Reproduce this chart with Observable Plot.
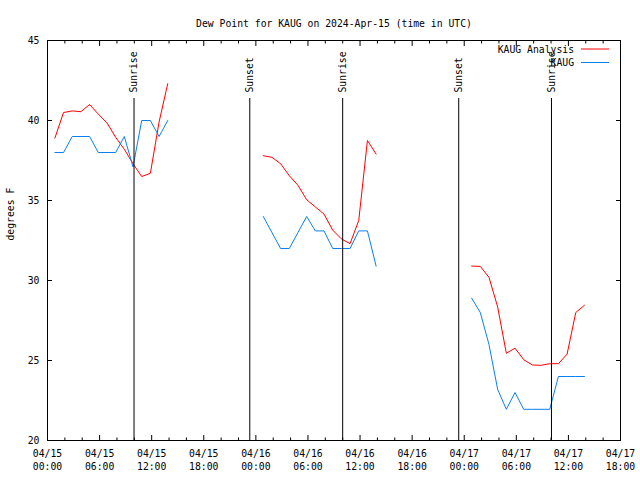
<!DOCTYPE html>
<html>
<head>
<meta charset="utf-8">
<script src="https://cdn.jsdelivr.net/npm/d3@7"></script>
<script src="https://cdn.jsdelivr.net/npm/@observablehq/plot@0.6"></script>
<style>
  html, body { margin: 0; padding: 0; background: #fff; }
  svg { display: block; }
</style>
</head>
<body>
<div id="chart"></div>
<script>
// ---- data ----
const titleText = "Dew Point for KAUG on 2024-Apr-15 (time in UTC)";
const yLabel = "degrees F";
const seriesNames = ["KAUG Analysis", "KAUG"];
const seriesColors = ["#ff0000", "#0a80f0"];

const times1 = ["2024-04-15T00:51Z","2024-04-15T01:51Z","2024-04-15T02:51Z","2024-04-15T03:51Z","2024-04-15T04:51Z","2024-04-15T05:51Z","2024-04-15T06:51Z","2024-04-15T07:51Z","2024-04-15T08:51Z","2024-04-15T09:51Z","2024-04-15T10:51Z","2024-04-15T11:51Z","2024-04-15T12:51Z","2024-04-15T13:51Z"];
const times2 = ["2024-04-16T00:51Z","2024-04-16T01:51Z","2024-04-16T02:51Z","2024-04-16T03:51Z","2024-04-16T04:51Z","2024-04-16T05:51Z","2024-04-16T06:51Z","2024-04-16T07:51Z","2024-04-16T08:51Z","2024-04-16T09:51Z","2024-04-16T10:51Z","2024-04-16T11:51Z","2024-04-16T12:51Z","2024-04-16T13:51Z"];
const times3 = ["2024-04-17T00:51Z","2024-04-17T01:51Z","2024-04-17T02:51Z","2024-04-17T03:51Z","2024-04-17T04:51Z","2024-04-17T05:51Z","2024-04-17T06:51Z","2024-04-17T07:51Z","2024-04-17T08:51Z","2024-04-17T09:51Z","2024-04-17T10:51Z","2024-04-17T11:51Z","2024-04-17T12:51Z","2024-04-17T13:51Z"];

const analysis1 = [38.9, 40.5, 40.6, 40.55, 41.0, 40.4, 39.85, 38.95, 38.2, 37.3, 36.5, 36.7, 39.9, 42.3];
const analysis2 = [37.8, 37.7, 37.3, 36.55, 35.95, 35.05, 34.6, 34.15, 33.15, 32.6, 32.3, 33.75, 38.75, 37.9];
const analysis3 = [30.9, 30.88, 30.2, 28.35, 25.45, 25.77, 25.05, 24.72, 24.7, 24.8, 24.8, 25.4, 28.0, 28.45];

const obs1 = [38, 38, 39, 39, 39, 38, 38, 38, 39, 37.1, 40, 40, 39, 40];
const obs2 = [34, 33, 32, 32, 33, 34, 33.1, 33.1, 32, 32, 32, 33.1, 33.1, 30.9];
const obs3 = [28.9, 28.0, 26.0, 23.2, 21.95, 23.0, 21.95, 21.95, 21.95, 21.95, 24.0, 24.0, 24.0, 24.0];

const sunTimes = ["2024-04-15T09:58Z", "2024-04-15T23:18Z", "2024-04-16T10:00Z", "2024-04-16T23:22Z", "2024-04-17T10:03Z"];
const sunLabels = ["Sunrise", "Sunset", "Sunrise", "Sunset", "Sunrise"];

const xDomain = ["2024-04-15T00:00Z", "2024-04-17T18:00Z"];
const xMajorTicks = ["2024-04-15T00:00Z","2024-04-15T06:00Z","2024-04-15T12:00Z","2024-04-15T18:00Z","2024-04-16T00:00Z","2024-04-16T06:00Z","2024-04-16T12:00Z","2024-04-16T18:00Z","2024-04-17T00:00Z","2024-04-17T06:00Z","2024-04-17T12:00Z","2024-04-17T18:00Z"];
const yDomain = [20, 45];
const yTicks = [20, 25, 30, 35, 40, 45];

// ---- build tables ----
const parse = s => new Date(s);
const rows = [];
[[times1, analysis1, obs1], [times2, analysis2, obs2], [times3, analysis3, obs3]].forEach(([t, a, o], i) => {
  t.forEach((s, j) => {
    rows.push({time: parse(s), value: a[j], series: seriesNames[0], seg: seriesNames[0] + i});
  });
  t.forEach((s, j) => {
    rows.push({time: parse(s), value: o[j], series: seriesNames[1], seg: seriesNames[1] + i});
  });
});
const sunEvents = sunTimes.map((s, i) => ({time: parse(s), label: sunLabels[i]}));
const xDom = xDomain.map(parse);
const majorTicks = xMajorTicks.map(parse);
const minorTicks = d3.utcHour.every(2).range(xDom[0], new Date(+xDom[1] + 1)).filter(d => d.getUTCHours() % 6 !== 0);
const fmt = d3.utcFormat("%m/%d\n%H:%M");
const blank = () => "";

const chart = Plot.plot({
  width: 640,
  height: 480,
  marginLeft: 47,
  marginRight: 20,
  marginTop: 40,
  marginBottom: 40,
  style: {fontFamily: "'DejaVu Sans Mono', monospace", fontSize: "9.75px", background: "#fff", color: "#000"},
  x: {type: "utc", domain: xDom, label: null},
  y: {domain: yDomain, label: null},
  color: {domain: seriesNames, range: seriesColors},
  marks: [
    Plot.axisX(majorTicks, {tickSize: -5, tickPadding: 12, tickFormat: fmt, lineHeight: 1.35, label: null}),
    Plot.axisX(majorTicks, {anchor: "top", tickSize: -5, tickFormat: blank, label: null}),
    Plot.axisX(minorTicks, {tickSize: -2.5, tickFormat: blank, label: null}),
    Plot.axisX(minorTicks, {anchor: "top", tickSize: -2.5, tickFormat: blank, label: null}),
    Plot.axisY(yTicks, {tickSize: -5, tickPadding: 13, label: null}),
    Plot.axisY(yTicks, {anchor: "right", tickSize: -5, tickFormat: blank, label: null}),
    Plot.frame({stroke: "#000"}),
    Plot.line(rows.filter(d => d.series === seriesNames[0]), {x: "time", y: "value", z: "seg", stroke: "series", strokeWidth: 1}),
    Plot.line(rows.filter(d => d.series === seriesNames[1]), {x: "time", y: "value", z: "seg", stroke: "series", strokeWidth: 1}),
    Plot.ruleX(sunEvents, {x: "time", insetTop: 58, stroke: "#000", strokeWidth: 1}),
    Plot.text(sunEvents, {x: "time", text: "label", frameAnchor: "top", dx: -3.5, dy: 52, rotate: -90, textAnchor: "start", fill: "#000"}),
    Plot.text([titleText], {text: d => d, frameAnchor: "top", dy: -20, fill: "#000"}),
    Plot.text([yLabel], {text: d => d, frameAnchor: "left", dx: -37, rotate: -90, fill: "#000"})
  ]
});

document.getElementById("chart").appendChild(chart);

// legend (top right, inside plot)
const svg = d3.select(chart);
const lg = svg.append("g").attr("font-family", "'DejaVu Sans Mono', monospace").attr("font-size", "9.75px");
seriesNames.forEach((name, i) => {
  const y = 49.5 + i * 13.5;
  lg.append("text").attr("x", 574).attr("y", y).attr("dy", "0.32em").attr("text-anchor", "end").attr("fill", "#000").text(name);
  lg.append("line").attr("x1", 581).attr("x2", 609).attr("y1", y - 0.5).attr("y2", y - 0.5).attr("stroke", seriesColors[i]).attr("stroke-width", 1);
});
</script>
</body>
</html>
